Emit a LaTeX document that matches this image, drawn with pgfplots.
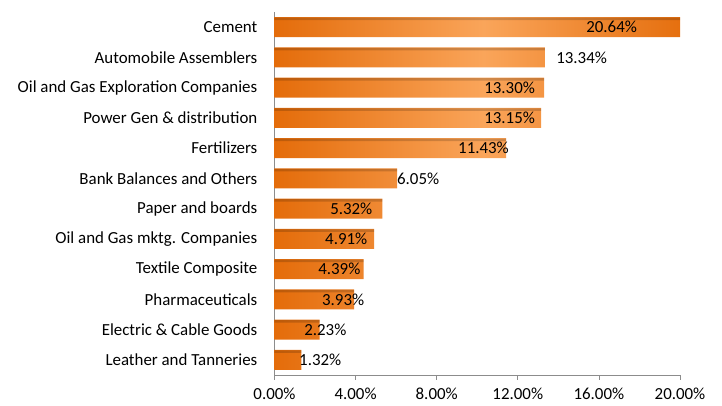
\documentclass[border=0pt]{standalone}
\usepackage{fontspec}
\setmainfont{Carlito}
\usepackage{pgfplots}
\pgfplotsset{compat=1.18}
\usepackage{pgfplotstable}

\definecolor{barend}{HTML}{E46C0A}
\definecolor{barmid}{HTML}{FAA55A}
\definecolor{axisgray}{HTML}{8C8C8C}

% y: row position (Cement on top), val: share in %, lx: left edge of its label
\pgfplotstableread{
y  val   lx
11 20.64 15.37
10 13.34 13.89
9  13.30 10.34
8  13.15 10.34
7  11.43 9.05
6  6.05  6.04
5  5.32  2.74
4  4.91  2.49
3  4.39  2.15
2  3.93  2.34
1  2.23  1.46
0  1.32  1.21
}\shares

\newcommand\chartfont{\fontsize{16.9}{20}\selectfont}

\begin{document}
\begin{tikzpicture}
\begin{axis}[
  scale only axis,
  width=405.5pt, height=363pt,
  xmin=0, xmax=20,
  ymin=-0.5, ymax=11.5,
  axis x line*=bottom,
  axis y line*=left,
  axis line style={draw=axisgray, line width=0.8pt, -},
  xtick={0,4,8,12,16,20},
  xticklabels={0.00\%,4.00\%,8.00\%,12.00\%,16.00\%,20.00\%},
  ytick={0,...,11},
  yticklabels={Leather and Tanneries, Electric \& Cable Goods, Pharmaceuticals,
    Textile Composite, Oil and Gas mktg. Companies, Paper and boards,
    Bank Balances and Others, Fertilizers, Power Gen \& distribution,
    Oil and Gas Exploration Companies, Automobile Assemblers, Cement},
  tick align=outside,
  x tick style={draw=axisgray, line width=0.8pt},
  major tick length=5pt,
  y tick style={draw=none},
  ticklabel style={font=\chartfont, text=black},
  yticklabel style={inner sep=0pt, xshift=-12pt},
  xticklabel style={inner sep=0pt, yshift=-8pt},
]
\coordinate (o) at (rel axis cs:0,0);
\addplot[xbar, bar width=20pt, draw=none,
  left color=barend, right color=barend, middle color=barmid]
  table[x=val, y=y] {\shares};
% darker rim along the top of each bar
\addplot[xbar, bar width=2.5pt, bar shift=8.2pt, draw=none,
  fill=black, fill opacity=0.17]
  table[x=val, y=y] {\shares};
\addplot[draw=none, mark=none,
  point meta=explicit,
  nodes near coords={\pgfmathprintnumber[fixed, fixed zerofill, precision=2, assume math mode=true]{\pgfplotspointmeta}\%},
  every node near coord/.style={anchor=west, inner sep=0pt, font=\chartfont, text=black}]
  table[x=lx, y=y, meta=val] {\shares};
\end{axis}
\pgfresetboundingbox
\path (o) ++(-274.5pt,-31pt) rectangle ++(722pt,406pt);
\end{tikzpicture}
\end{document}
